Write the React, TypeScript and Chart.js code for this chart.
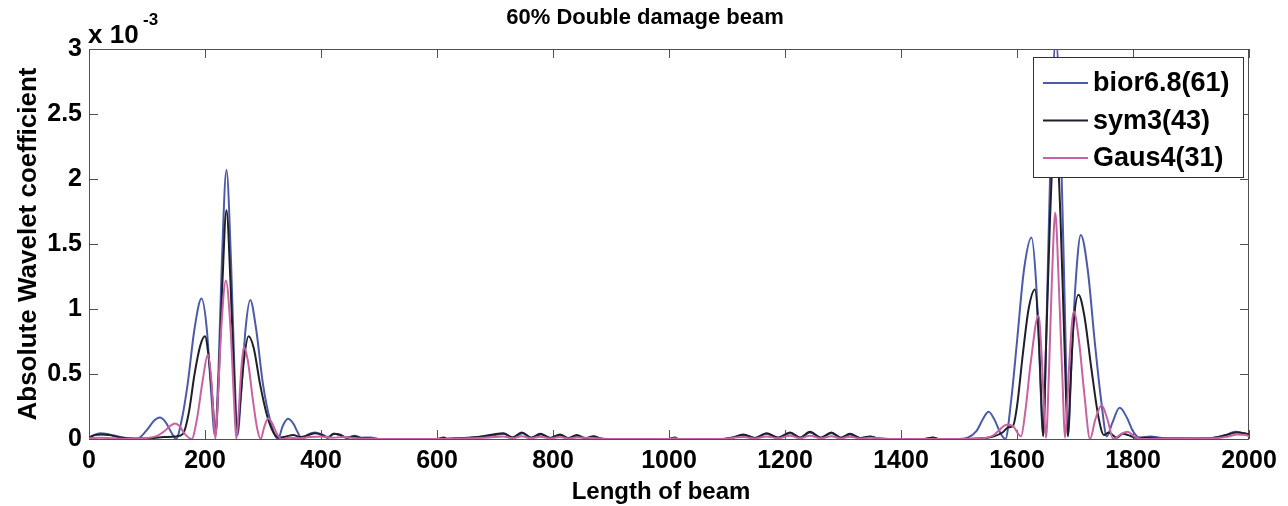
import { useEffect, useRef } from "react";
import { Chart, registerables } from "chart.js";

Chart.register(...registerables);

// Axis ticks
const xTickValues = [0, 200, 400, 600, 800, 1000, 1200, 1400, 1600, 1800, 2000];
const yTickValues = [0, 0.5, 1, 1.5, 2, 2.5, 3];

// Series labels and colours
const seriesNames = ["bior6.8(61)", "sym3(43)", "Gaus4(31)"];
const seriesColors = ["#4c5aa8", "#1f1f2a", "#c862a0"];

// Absolute wavelet coefficient (x 10^-3) along the beam, bior6.8
const biorX = [
  0, 8, 20, 35, 50, 65, 82, 100, 112, 122, 132, 142, 150, 160, 170, 182, 194, 203, 210, 217,
  223, 229, 237, 245, 251, 256, 263, 270, 278, 288, 300, 312, 326, 334, 343, 352, 360, 367,
  378, 390, 402, 412, 422, 432, 445, 458, 470, 485, 500,
  600, 620, 650, 680, 700, 716, 731, 748, 763, 780, 796, 813, 827, 842, 856, 870, 882, 895,
  1000, 1010, 1016,
  1090, 1110, 1128, 1148, 1168, 1188, 1209, 1226, 1243, 1262, 1280, 1296, 1312, 1330, 1347, 1362, 1380,
  1440, 1455, 1465,
  1500, 1515, 1530, 1542, 1551, 1561, 1572, 1580, 1590, 1600, 1612, 1625, 1633, 1639, 1645,
  1651, 1658, 1667, 1676, 1683, 1688, 1694, 1701, 1710, 1722, 1734, 1745, 1755, 1764, 1777,
  1790, 1800, 1812, 1830, 1850, 1880, 1910, 1940, 1960, 1976, 1990, 2000,
];
const biorY = [
  0.01, 0.03, 0.045, 0.035, 0.02, 0.008, 0.0, 0.07, 0.14, 0.165, 0.13, 0.05, 0.0, 0.15, 0.42, 0.85, 1.08, 0.85, 0.4, 0.03,
  0.5, 1.35, 2.07, 1.35, 0.5, 0.03, 0.4, 0.85, 1.07, 0.85, 0.42, 0.15, 0.0, 0.1, 0.155, 0.12, 0.05, 0.0,
  0.035, 0.05, 0.035, 0.015, 0.04, 0.03, 0.01, 0.025, 0.01, 0.012, 0.0,
  0.0, 0.004, 0.008, 0.02, 0.03, 0.04, 0.01, 0.045, 0.01, 0.035, 0.008, 0.03, 0.005, 0.025, 0.004, 0.018, 0.003, 0.0,
  0.0, 0.01, 0.0,
  0.0, 0.012, 0.03, 0.008, 0.04, 0.01, 0.045, 0.01, 0.05, 0.01, 0.045, 0.01, 0.035, 0.006, 0.018, 0.003, 0.0,
  0.0, 0.01, 0.0,
  0.0, 0.01, 0.06, 0.16, 0.21, 0.15, 0.04, 0.0, 0.3, 0.75, 1.3, 1.55, 1.2, 0.6, 0.03,
  0.9, 2.2, 3.08, 2.2, 0.9, 0.03, 0.6, 1.2, 1.57, 1.3, 0.75, 0.3, 0.02, 0.12, 0.24,
  0.16, 0.06, 0.01, 0.02, 0.008, 0.005, 0.0, 0.01, 0.03, 0.055, 0.045, 0.03,
];

// sym3
const symX = [
  0, 10, 22, 35, 50, 70, 100, 130, 150, 162, 172, 182, 192, 200, 207, 213, 218, 224, 230, 237,
  244, 250, 255, 261, 267, 275, 284, 295, 307, 318, 328, 340, 352, 365, 378, 390, 402, 412,
  422, 432, 445, 458, 470, 500,
  600, 612, 618, 640, 660, 680, 697, 714, 730, 746, 762, 778, 795, 812, 826, 841, 856, 870, 882, 893,
  1000, 1010, 1016,
  1090, 1110, 1128, 1148, 1168, 1188, 1209, 1226, 1243, 1262, 1280, 1296, 1312, 1330, 1347, 1360, 1380,
  1440, 1455, 1465,
  1500, 1540, 1560, 1575, 1585, 1593, 1600, 1610, 1620, 1631, 1637, 1641, 1645, 1650, 1657,
  1666, 1675, 1682, 1688, 1692, 1697, 1706, 1716, 1728, 1740, 1750, 1758, 1765, 1772, 1782,
  1792, 1805, 1830, 1880, 1930, 1960, 1978, 1992, 2000,
];
const symY = [
  0.01, 0.03, 0.035, 0.03, 0.015, 0.003, 0.005, 0.015, 0.02, 0.04, 0.2, 0.5, 0.72, 0.79, 0.6, 0.3, 0.03, 0.5, 1.2, 1.76,
  1.2, 0.5, 0.03, 0.3, 0.6, 0.79, 0.7, 0.42, 0.18, 0.05, 0.01, 0.02, 0.03, 0.015, 0.03, 0.045, 0.03, 0.01,
  0.04, 0.035, 0.01, 0.02, 0.005, 0.0,
  0.0, 0.012, 0.0, 0.006, 0.012, 0.022, 0.035, 0.045, 0.012, 0.05, 0.01, 0.04, 0.008, 0.035, 0.006, 0.03, 0.005, 0.022, 0.004, 0.0,
  0.0, 0.012, 0.0,
  0.0, 0.012, 0.035, 0.008, 0.045, 0.01, 0.05, 0.01, 0.055, 0.01, 0.05, 0.01, 0.04, 0.008, 0.02, 0.003, 0.0,
  0.0, 0.012, 0.0,
  0.0, 0.005, 0.02, 0.05, 0.09, 0.1, 0.25, 0.65, 1.0, 1.15, 0.85, 0.4, 0.02, 0.7, 1.7,
  2.45, 1.7, 0.7, 0.02, 0.4, 0.85, 1.11, 0.95, 0.55, 0.18, 0.03, 0.05, 0.03, 0.01, 0.04,
  0.03, 0.01, 0.01, 0.005, 0.005, 0.03, 0.05, 0.045, 0.035,
];

// Gaus4
const gausX = [
  0, 20, 40, 60, 90, 115, 130, 140, 148, 156, 165, 177, 186, 196, 205, 211, 215, 218, 222, 228,
  236, 244, 250, 254, 258, 262, 267, 274, 282, 290, 296, 302, 309, 316, 324, 332, 345, 360,
  380, 400, 420, 440, 460, 480,
  600, 660, 690, 714, 730, 746, 762, 778, 795, 812, 826, 841, 870, 893,
  1000, 1010, 1016,
  1090, 1128, 1148, 1168, 1188, 1209, 1226, 1243, 1262, 1280, 1296, 1312, 1330, 1347, 1370,
  1500, 1540, 1560, 1572, 1582, 1593, 1602, 1607, 1614, 1624, 1637, 1643, 1647, 1650, 1655,
  1660, 1666, 1672, 1678, 1683, 1687, 1691, 1698, 1707, 1716, 1726, 1735, 1746, 1756, 1766,
  1780, 1791, 1802, 1815, 1860, 1940, 1965, 1980, 1995, 2000,
];
const gausY = [
  0.005, 0.01, 0.005, 0.0, 0.005, 0.02, 0.06, 0.1, 0.12, 0.1, 0.04, 0.0, 0.15, 0.45, 0.65, 0.45, 0.15, 0.0, 0.3, 0.85,
  1.22, 0.85, 0.3, 0.0, 0.2, 0.5, 0.71, 0.6, 0.32, 0.08, 0.0, 0.09, 0.16, 0.12, 0.04, 0.0, 0.01, 0.005,
  0.015, 0.02, 0.01, 0.015, 0.005, 0.0,
  0.0, 0.005, 0.012, 0.02, 0.006, 0.022, 0.005, 0.018, 0.004, 0.015, 0.003, 0.012, 0.008, 0.0,
  0.0, 0.006, 0.0,
  0.0, 0.015, 0.004, 0.02, 0.005, 0.025, 0.005, 0.025, 0.005, 0.022, 0.004, 0.018, 0.003, 0.01, 0.0,
  0.0, 0.005, 0.03, 0.08, 0.11, 0.1, 0.04, 0.02, 0.2, 0.6, 0.95, 0.6, 0.2, 0.01, 0.5,
  1.2, 1.74, 1.2, 0.5, 0.01, 0.3, 0.65, 0.98, 0.75, 0.35, 0.0, 0.15, 0.26, 0.15, 0.0,
  0.04, 0.056, 0.02, 0.0, 0.005, 0.005, 0.02, 0.035, 0.03, 0.02,
];

const seriesX = [biorX, symX, gausX];
const seriesY = [biorY, symY, gausY];

const FONT = '"Liberation Sans", Arial, Helvetica, sans-serif';

const framePlugin = {
  id: "matlabFrame",
  beforeDatasetsDraw(chart: any) {
    const { ctx, chartArea: a, scales } = chart;
    ctx.save();
    ctx.strokeStyle = "#505050";
    ctx.lineWidth = 1;
    ctx.strokeRect(a.left + 0.5, a.top + 0.5, a.right - a.left - 1, a.bottom - a.top);
    const tl = 9;
    ctx.beginPath();
    for (const t of scales.x.ticks) {
      const px = Math.round(scales.x.getPixelForValue(t.value)) + 0.5;
      ctx.moveTo(px, a.bottom);
      ctx.lineTo(px, a.bottom - tl);
      ctx.moveTo(px, a.top);
      ctx.lineTo(px, a.top + tl);
    }
    for (const t of scales.y.ticks) {
      const py = Math.round(scales.y.getPixelForValue(t.value)) + 0.5;
      ctx.moveTo(a.left, py);
      ctx.lineTo(a.left + tl, py);
      ctx.moveTo(a.right, py);
      ctx.lineTo(a.right - tl, py);
    }
    ctx.stroke();
    ctx.restore();
  },
  afterDraw(chart: any) {
    const { ctx, chartArea: a } = chart;
    ctx.save();
    ctx.fillStyle = "#000";

    // Title
    ctx.font = `bold 22px ${FONT}`;
    ctx.textAlign = "center";
    ctx.textBaseline = "middle";
    ctx.fillText("60% Double damage beam", 645, 18);

    // Exponent label
    ctx.textAlign = "left";
    ctx.textBaseline = "alphabetic";
    ctx.font = `bold 26px ${FONT}`;
    ctx.fillText("x 10", a.left - 1, 43);
    ctx.font = `bold 17px ${FONT}`;
    ctx.fillText("-3", a.left + 54, 25);

    // Axis titles
    ctx.font = `bold 24px ${FONT}`;
    ctx.textAlign = "center";
    ctx.fillText("Length of beam", (a.left + a.right) / 2 - 8, 499);
    ctx.font = `bold 26px ${FONT}`;
    ctx.save();
    ctx.translate(36, (a.top + a.bottom) / 2);
    ctx.rotate(-Math.PI / 2);
    ctx.fillText("Absolute Wavelet coefficient", 0, 0);
    ctx.restore();

    // Legend box
    const lw = 210, lh = 120;
    const lx = a.right - 6 - lw, ly = a.top + 8;
    ctx.fillStyle = "#fff";
    ctx.fillRect(lx, ly, lw, lh);
    ctx.strokeStyle = "#303030";
    ctx.lineWidth = 1;
    ctx.strokeRect(lx + 0.5, ly + 0.5, lw, lh);
    ctx.font = `bold 27px ${FONT}`;
    ctx.textAlign = "left";
    ctx.textBaseline = "middle";
    seriesNames.forEach((name, i) => {
      const y = ly + 26 + i * 37.5;
      ctx.strokeStyle = seriesColors[i];
      ctx.lineWidth = 1.8;
      ctx.beginPath();
      ctx.moveTo(lx + 10, y);
      ctx.lineTo(lx + 55, y);
      ctx.stroke();
      ctx.fillStyle = "#000";
      ctx.fillText(name, lx + 60, y + 1);
    });
    ctx.restore();
  },
};

export default function App() {
  const canvasRef = useRef<HTMLCanvasElement | null>(null);

  useEffect(() => {
    const canvas = canvasRef.current;
    if (!canvas) return;
    const datasets = seriesNames.map((name, i) => ({
      label: name,
      data: seriesX[i].map((x, k) => ({ x, y: seriesY[i][k] })),
      borderColor: seriesColors[i],
      backgroundColor: seriesColors[i],
      borderWidth: 2,
      pointRadius: 0,
      cubicInterpolationMode: "monotone" as const,
      fill: false,
      order: 3 - i,
    }));

    const chart = new Chart(canvas, {
      type: "line",
      data: { datasets },
      options: {
        animation: false,
        responsive: false,
        maintainAspectRatio: false,
        parsing: false,
        layout: { padding: { top: 49, right: 39, left: 0, bottom: 0 } },
        plugins: {
          legend: { display: false },
          tooltip: { enabled: false },
          title: { display: false },
        },
        scales: {
          x: {
            type: "linear",
            min: 0,
            max: 2000,
            border: { display: false },
            grid: { display: false, drawTicks: false },
            afterBuildTicks: (s: any) => {
              s.ticks = xTickValues.map((v) => ({ value: v }));
            },
            afterFit: (s: any) => {
              s.height = 67;
            },
            ticks: {
              color: "#000",
              padding: 7,
              maxRotation: 0,
              autoSkip: false,
              font: { family: FONT, size: 25, weight: "bold" },
              callback: (v: any) => String(v),
            },
          },
          y: {
            type: "linear",
            min: 0,
            max: 3,
            border: { display: false },
            grid: { display: false, drawTicks: false },
            afterBuildTicks: (s: any) => {
              s.ticks = yTickValues.map((v) => ({ value: v }));
            },
            afterFit: (s: any) => {
              s.width = 89;
            },
            ticks: {
              color: "#000",
              padding: 7,
              autoSkip: false,
              font: { family: FONT, size: 25, weight: "bold" },
              callback: (v: any) => String(v),
            },
          },
        },
      },
      plugins: [framePlugin],
    });
    return () => chart.destroy();
  }, []);

  return (
    <div style={{ position: "absolute", left: 0, top: 0, width: 1288, height: 506, background: "#fff" }}>
      <canvas ref={canvasRef} width={1288} height={506} style={{ display: "block" }} />
    </div>
  );
}
